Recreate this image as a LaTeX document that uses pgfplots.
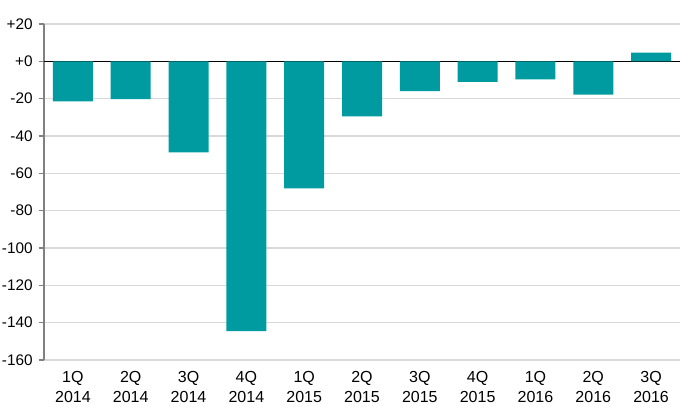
\documentclass[border=0pt]{standalone}
\usepackage{pgfplots}
\pgfplotsset{compat=1.18}
\usepackage{fontspec}
\setmainfont{Liberation Sans}
\definecolor{barteal}{RGB}{0,155,160}
\definecolor{gridgray}{RGB}{217,217,217}
\definecolor{axisgray}{RGB}{128,128,128}
\begin{document}
\begin{tikzpicture}[x=1pt,y=1pt]
  \useasboundingbox (0,0) rectangle (525,314.25);
  \begin{axis}[
      at={(33pt,44.25pt)}, anchor=south west,
      scale only axis,
      width=477pt, height=252pt,
      ybar, bar width=30pt, bar shift=0pt,
      xmin=-0.5, xmax=10.5,
      ymin=-160, ymax=20,
      xtick=data,
      xticklabels={1Q\\2014,2Q\\2014,3Q\\2014,4Q\\2014,1Q\\2015,2Q\\2015,3Q\\2015,4Q\\2015,1Q\\2016,2Q\\2016,3Q\\2016},
      xticklabel style={align=center, font=\fontsize{12}{15}\selectfont, yshift=-1pt},
      x tick style={draw=none},
      ytick={-160,-140,...,20},
      yticklabels={-160,-140,-120,-100,-80,-60,-40,-20,+0,+20},
      yticklabel style={font=\fontsize{11.5}{13}\selectfont, xshift=-1pt},
      y tick style={axisgray, line width=0.8pt},
      tick align=outside, major tick length=4pt,
      ymajorgrids, grid style={gridgray, line width=0.8pt},
      axis x line*=bottom,
      x axis line style={draw=none},
      axis y line*=left,
      y axis line style={axisgray, line width=0.8pt, -},
      extra y ticks={0}, extra y tick labels={},
      extra y tick style={grid style={black, line width=0.6pt}, major tick length=0pt},
      clip=false,
    ]
    \addplot[fill=barteal, draw=none] coordinates {
      (0,-21.5) (1,-20.3) (2,-48.8) (3,-144.5) (4,-68) (5,-29.5)
      (6,-16) (7,-11) (8,-9.6) (9,-17.8) (10,4.7)
    };
  \end{axis}
\end{tikzpicture}
\end{document}
